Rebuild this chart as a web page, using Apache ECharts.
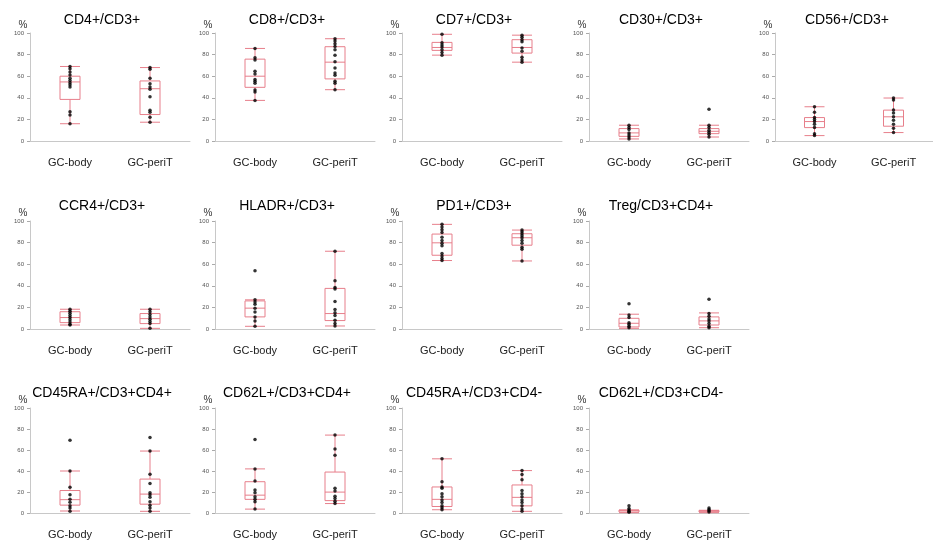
<!DOCTYPE html>
<html>
<head>
<meta charset="utf-8">
<script src="https://cdn.jsdelivr.net/npm/echarts@6/dist/echarts.min.js"></script>
<style>
  html, body { margin: 0; padding: 0; background: #fff; }
  #main { width: 933px; height: 540px; }
</style>
</head>
<body>
<div id="main"></div>
<script>
// panel titles, row by row (5 + 4 + 4)
const panelTitles = [
    'CD4+/CD3+', 'CD8+/CD3+', 'CD7+/CD3+', 'CD30+/CD3+', 'CD56+/CD3+',
    'CCR4+/CD3+', 'HLADR+/CD3+', 'PD1+/CD3+', 'Treg/CD3+CD4+',
    'CD45RA+/CD3+CD4+', 'CD62L+/CD3+CD4+', 'CD45RA+/CD3+CD4-', 'CD62L+/CD3+CD4-'
];
const categories = ['GC-body', 'GC-periT'];

// box stats [min, Q1, median, Q3, max] per panel
const boxBody = [
    [16, 38.5, 54.7, 60, 69],
    [37.6, 49.7, 60, 75.8, 85.7],
    [79.5, 83.9, 86.6, 91.3, 98.8],
    [1.9, 4.3, 7.5, 11.5, 14.6],
    [5, 12.4, 18, 21.7, 31.7],
    [3.7, 5.9, 10.6, 16, 18.3],
    [2.5, 11.2, 19.3, 26, 27],
    [63.4, 68.3, 79.8, 87.9, 96.9],
    [0.6, 1.9, 5.3, 9.9, 13.7],
    [1.9, 7.5, 12.7, 21.4, 40],
    [3.7, 13, 17, 29.8, 42],
    [3.1, 6.2, 13, 24.8, 51.6],
    [0.3, 0.9, 2.2, 2.8, 2.8]
];
const boxPeriT = [
    [17.4, 24.5, 48.4, 55.6, 68],
    [47.5, 57.5, 73, 87.3, 94.7],
    [73, 81.4, 86.6, 93.8, 98],
    [3.7, 6.8, 9, 11.5, 14.6],
    [7.8, 13.7, 22.4, 28.6, 39.8],
    [0.6, 5, 9.6, 14.3, 18.3],
    [2.8, 7.8, 14.3, 37.6, 72],
    [63, 77.6, 84.5, 88.2, 91.6],
    [1.2, 3.7, 7.5, 11.2, 14.9],
    [1.6, 8.4, 18, 32.3, 59],
    [9, 11.8, 19.9, 39, 74.2],
    [1.6, 6.8, 14.9, 26.7, 40.4],
    [0.3, 0.9, 1.6, 2.5, 2.5]
];

// individual samples per panel
const dotsBody = [
    [69, 67, 64, 61, 58, 56, 54, 52, 50, 27, 24, 16],
    [85.7, 77, 75, 64.6, 62, 57, 55.3, 53.4, 47.2, 45.3, 37.6],
    [98.8, 91, 88.8, 87, 84.5, 82, 79.5],
    [14.6, 12.4, 10.6, 7.5, 5.6, 3.7, 1.9],
    [31.7, 26.7, 21.7, 19.9, 18, 15.5, 12.4, 6.8, 5],
    [18.3, 16.5, 14.5, 12.5, 10.6, 8.5, 6.5, 4.5, 3.7],
    [54, 27, 25, 23, 19.3, 15.8, 11.2, 7.5, 2.5],
    [96.9, 94.4, 92, 89.4, 85, 82, 79.5, 77, 70, 67.7, 65.2, 63.4],
    [23.3, 13, 10.6, 5.9, 4.3, 2.5, 1.2],
    [69.3, 40, 24.5, 17.4, 13, 10.2, 6.8, 4.7, 1.6],
    [70, 42, 30.4, 22, 19.3, 15.5, 13, 10.6, 3.7],
    [51.6, 29.8, 24.8, 23.6, 18.3, 15.5, 12.4, 9.9, 6.8, 5, 3.1],
    [6.8, 4.3, 2.8, 1.6, 0.6]
];
const dotsPeriT = [
    [68, 66.5, 58, 53, 50, 48, 41, 28.5, 26.7, 22, 17.4],
    [94.7, 92.5, 90, 87.6, 84.5, 79.5, 73.3, 67.7, 63, 60.9, 55.3, 53.4, 47.5],
    [98, 96, 93.8, 92, 86, 83, 77.6, 75, 73],
    [29.5, 14.6, 12.4, 10, 8, 6.2, 3.7],
    [39.8, 37.9, 28.6, 26, 22.4, 19.3, 15.5, 11.8, 7.8],
    [18.3, 16, 13.5, 11, 9, 7, 5, 0.6],
    [72, 44.7, 38.5, 37, 25.5, 18, 15, 12.4, 8, 5, 2.8],
    [91.6, 90, 88.2, 86.3, 84.5, 82, 79.5, 75.8, 73.9, 63],
    [27.6, 14.3, 11.8, 9.3, 7.5, 5, 2.5, 1.2],
    [72, 59, 37, 28, 19.3, 17.4, 15, 10.6, 7.5, 4.7, 1.6],
    [74.2, 61, 55, 23.6, 21, 16, 13.7, 11.2, 9],
    [40.4, 36.6, 31.7, 21.4, 18.3, 15.5, 12.4, 9.9, 6.8, 3.7, 1.6],
    [4.7, 3.4, 2.2, 0.9]
];

// layout: which row / column each panel sits in
const panelRow = [0, 0, 0, 0, 0, 1, 1, 1, 1, 2, 2, 2, 2];
const panelCol = [0, 1, 2, 3, 4, 0, 1, 2, 3, 0, 1, 2, 3];
const colLeft = [30, 215, 402, 589, 775];
const rowTop = [33, 221, 408];
const titleTop = [8, 194, 381];
const gridW = 160;
const gridH = 108;
const font = 'Liberation Sans, Arial, sans-serif';
const boxColor = '#e77f8b';

var myChart = echarts.init(document.getElementById('main'));

var grids = [], xAxes = [], yAxes = [], titles = [], series = [];

panelTitles.forEach(function (name, i) {
    var row = panelRow[i];
    var col = panelCol[i];
    grids.push({
        left: colLeft[col], top: rowTop[row], width: gridW, height: gridH
    });
    titles.push({
        text: name,
        left: colLeft[col] + gridW / 2 - 13,
        top: titleTop[row],
        textAlign: 'center',
        textStyle: { fontFamily: font, fontSize: 14, fontWeight: 'normal', color: '#000' }
    });
    xAxes.push({
        type: 'category',
        gridIndex: i,
        data: categories,
        axisLine: { lineStyle: { color: '#c8c8c8' } },
        axisTick: { show: false },
        axisLabel: { fontFamily: font, fontSize: 11, color: '#222', margin: 16 }
    });
    yAxes.push({
        type: 'value',
        gridIndex: i,
        min: 0,
        max: 100,
        interval: 20,
        name: '%',
        nameLocation: 'end',
        nameGap: 3,
        nameTextStyle: { fontFamily: font, fontSize: 10, color: '#333', padding: [0, 14, 0, 0] },
        splitLine: { show: false },
        axisLine: { show: true, lineStyle: { color: '#c8c8c8' } },
        axisTick: { show: true, length: 3, lineStyle: { color: '#aaa' } },
        axisLabel: { fontFamily: font, fontSize: 6, color: '#555', margin: 6 }
    });
    series.push({
        type: 'boxplot',
        xAxisIndex: i,
        yAxisIndex: i,
        boxWidth: [20, 20],
        itemStyle: { color: 'rgba(0,0,0,0)', borderColor: boxColor, borderWidth: 1 },
        data: [boxBody[i], boxPeriT[i]],
        silent: true
    });
    var pts = dotsBody[i].map(function (v) { return [0, v]; })
        .concat(dotsPeriT[i].map(function (v) { return [1, v]; }));
    series.push({
        type: 'scatter',
        xAxisIndex: i,
        yAxisIndex: i,
        symbolSize: 3.5,
        itemStyle: { color: '#000' },
        data: pts,
        silent: true
    });
});

myChart.setOption({
    animation: false,
    title: titles,
    grid: grids,
    xAxis: xAxes,
    yAxis: yAxes,
    series: series
});
</script>
</body>
</html>
